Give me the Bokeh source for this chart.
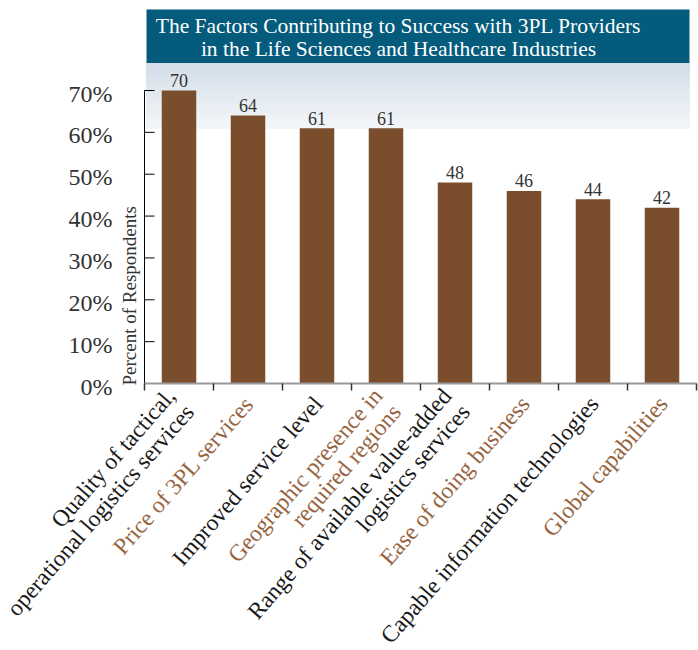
import math
from bokeh.plotting import figure
from bokeh.models import Range1d
from bokeh.core.properties import value
from bokeh.embed import file_html
from bokeh.resources import INLINE

# ---- data ----
categories = [
    "Quality of tactical,\noperational logistics services",
    "Price of 3PL services",
    "Improved service level",
    "Geographic presence in\nrequired regions",
    "Range of available value-added\nlogistics services",
    "Ease of doing business",
    "Capable information technologies",
    "Global capabilities",
]
values = [70, 64, 61, 61, 48, 46, 44, 42]
y_ticks = [0, 10, 20, 30, 40, 50, 60, 70]
y_tick_labels = ["0%", "10%", "20%", "30%", "40%", "50%", "60%", "70%"]
title_lines = ["The Factors Contributing to Success with 3PL Providers",
               "in the Life Sciences and Healthcare Industries"]
y_title = "Percent of Respondents"

# ---- style / layout ----
FONT = "Liberation Serif"
BAR = "#7a4e2d"
BROWN = "#96643f"
DARK = "#1a1a1a"
TEXT = "#333333"
TEAL = "#045b7c"

W, H = 698, 650
X0_PX, Y0_PX = 144, 383          # pixel position of the plot origin
SLOT_PX = 69.0                    # pixel width of one category slot
PPU = 293 / 70.0                  # pixels per percentage point
n = len(categories)


def dx(px):
    return px / SLOT_PX


def dy(px):
    return px / PPU


p = figure(width=W, height=H, output_backend="svg", toolbar_location=None,
           x_range=Range1d(-dx(X0_PX), dx(W - X0_PX)),
           y_range=Range1d(-dy(H - Y0_PX), dy(Y0_PX)),
           x_axis_location=None, y_axis_location=None,
           min_border=0, min_border_left=0, min_border_right=0,
           min_border_top=0, min_border_bottom=0)
p.outline_line_color = None
p.grid.visible = False
p.background_fill_color = "white"
p.border_fill_color = "white"

# ---- title box and gradient band (decoration) ----
box_left, box_right = dx(146 - X0_PX), dx(689 - X0_PX)
box_top, box_bottom = dy(Y0_PX - 9), dy(Y0_PX - 63)
p.quad(left=[box_left], right=[box_right], bottom=[box_bottom], top=[box_top],
       fill_color=TEAL, line_color=None)
grad_bottom = dy(Y0_PX - 128)
steps = 40
c0 = (211, 222, 233)
c1 = (243, 246, 249)
tops, bots, cols = [], [], []
for k in range(steps):
    t = k / (steps - 1)
    tops.append(box_bottom - (box_bottom - grad_bottom) * k / steps)
    bots.append(box_bottom - (box_bottom - grad_bottom) * (k + 1) / steps)
    c = tuple(int(round(c0[j] + (c1[j] - c0[j]) * t)) for j in range(3))
    cols.append("#%02x%02x%02x" % c)
p.quad(left=box_left, right=box_right, top=tops, bottom=bots,
       fill_color=cols, line_color=cols)

title_x = dx(398 - X0_PX)
p.text(x=[title_x, title_x], y=[dy(Y0_PX - 25), dy(Y0_PX - 48.5)], text=title_lines,
       text_font=value(FONT), text_font_size="21.5px", text_color="white",
       text_align="center", text_baseline="middle")

# ---- bars ----
xs = [i + 0.5 for i in range(n)]
p.vbar(x=xs, top=values, width=0.5, fill_color=BAR, line_color=None)
p.text(x=xs, y=values, text=[str(v) for v in values],
       text_font=value(FONT), text_font_size="18px", text_color=TEXT,
       text_align="center", text_baseline="middle", y_offset=-10)

# ---- y axis ----
p.segment(x0=[0], y0=[0], x1=[0], y1=[y_ticks[-1]], line_color="black", line_width=1)
p.segment(x0=[0] * len(y_ticks), y0=y_ticks, x1=[dx(10)] * len(y_ticks), y1=y_ticks,
          line_color="black", line_width=1)
p.text(x=[dx(112 - X0_PX)] * len(y_ticks), y=y_ticks, text=y_tick_labels,
       text_font=value(FONT), text_font_size="24px", text_color=TEXT,
       text_align="right", text_baseline="middle", y_offset=3)
p.text(x=[dx(129 - X0_PX)], y=[dy(-2)], text=[y_title], angle=math.pi / 2,
       text_font=value(FONT), text_font_size="19px", text_color=TEXT,
       text_align="left", text_baseline="middle")

# ---- x axis ----
p.segment(x0=[0], y0=[0], x1=[n], y1=[0], line_color="#999999", line_width=2)
bounds = list(range(n + 1))
p.segment(x0=bounds, y0=[0] * len(bounds), x1=bounds, y1=[-dy(7)] * len(bounds),
          line_color="#333333", line_width=1.5)

# ---- category labels ----
label_colors = [DARK if i % 2 == 0 else BROWN for i in range(n)]
p.text(x=[x + dx(1) for x in xs], y=[-dy(16)] * n, text=categories,
       angle=math.radians(49), text_font=value(FONT), text_font_size="23.5px",
       text_color=label_colors, text_align="right", text_baseline="middle",
       text_line_height=0.95)

open("out.html", "w").write(file_html(p, INLINE))
